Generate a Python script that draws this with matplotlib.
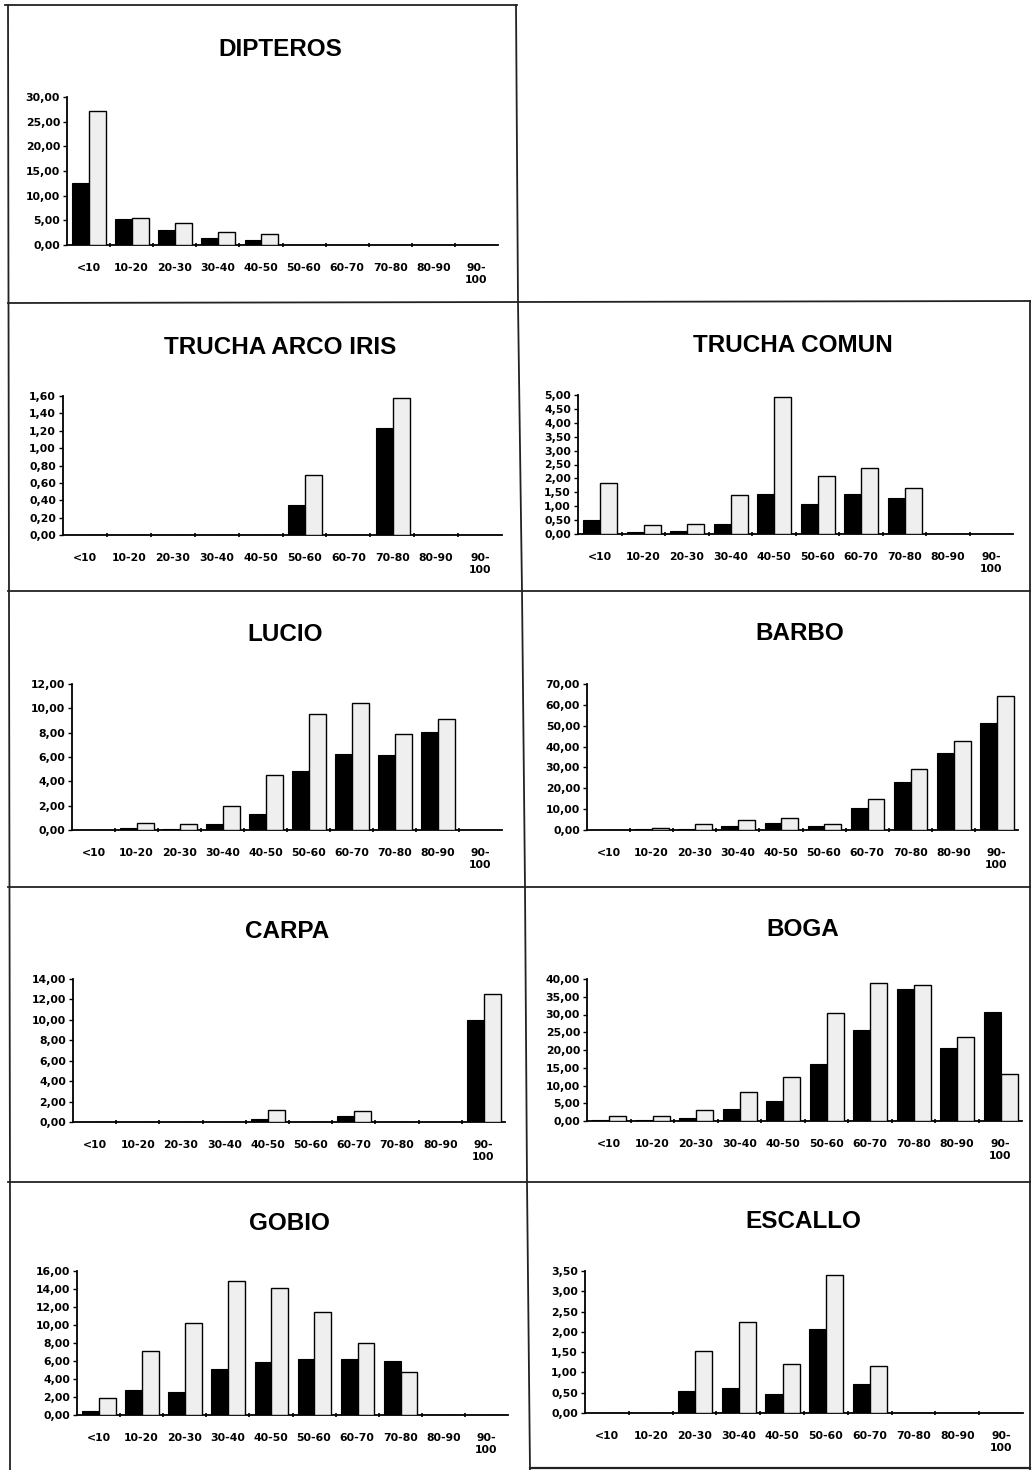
import matplotlib
matplotlib.use("Agg")
import matplotlib.pyplot as plt
from matplotlib.lines import Line2D
import numpy as np

# Length classes (cm) shared by every panel
categories = ["<10", "10-20", "20-30", "30-40", "40-50", "50-60",
              "60-70", "70-80", "80-90", "90-\n100"]

# Two series per species: black bars and light bars
dipteros_a = [12.6, 5.2, 3.0, 1.4, 1.1, 0, 0, 0, 0, 0]
dipteros_b = [27.2, 5.5, 4.45, 2.6, 2.2, 0, 0, 0, 0, 0]

arco_iris_a = [0, 0, 0, 0, 0, 0.35, 0, 1.23, 0, 0]
arco_iris_b = [0, 0, 0, 0, 0, 0.69, 0, 1.58, 0, 0]

comun_a = [0.49, 0.06, 0.10, 0.36, 1.44, 1.08, 1.44, 1.30, 0, 0]
comun_b = [1.82, 0.31, 0.36, 1.39, 4.94, 2.10, 2.36, 1.65, 0, 0]

lucio_a = [0, 0.16, 0.11, 0.52, 1.35, 4.83, 6.26, 6.13, 8.02, 0]
lucio_b = [0, 0.60, 0.50, 2.00, 4.48, 9.53, 10.44, 7.91, 9.15, 0]

barbo_a = [0, 0.3, 0.6, 1.9, 3.4, 1.8, 10.6, 22.9, 36.9, 51.4]
barbo_b = [0, 0.8, 2.9, 4.6, 5.8, 2.9, 14.7, 29.3, 42.5, 64.4]

carpa_a = [0, 0, 0, 0, 0.26, 0, 0.59, 0, 0, 10.0]
carpa_b = [0, 0, 0, 0, 1.18, 0, 1.08, 0, 0, 12.56]

boga_a = [0.3, 0.2, 0.9, 3.4, 5.7, 16.0, 25.5, 37.3, 20.5, 30.8]
boga_b = [1.5, 1.5, 3.2, 8.1, 12.5, 30.4, 38.9, 38.2, 23.6, 13.1]

gobio_a = [0.48, 2.8, 2.6, 5.06, 5.84, 6.17, 6.17, 5.99, 0, 0]
gobio_b = [1.85, 7.1, 10.24, 14.93, 14.12, 11.46, 7.98, 4.77, 0, 0]

escallo_a = [0, 0, 0.54, 0.62, 0.47, 2.07, 0.72, 0, 0, 0]
escallo_b = [0, 0, 1.52, 2.24, 1.22, 3.41, 1.17, 0, 0, 0]

titles = ["DIPTEROS", "TRUCHA ARCO IRIS", "TRUCHA COMUN", "LUCIO", "BARBO",
          "CARPA", "BOGA", "GOBIO", "ESCALLO"]
y_max = [30, 1.6, 5.0, 12, 70, 14, 40, 16, 3.5]
y_step = [5, 0.2, 0.5, 2, 10, 2, 5, 2, 0.5]
series = [(dipteros_a, dipteros_b), (arco_iris_a, arco_iris_b),
          (comun_a, comun_b), (lucio_a, lucio_b), (barbo_a, barbo_b),
          (carpa_a, carpa_b), (boga_a, boga_b), (gobio_a, gobio_b),
          (escallo_a, escallo_b)]

W, H = 1032, 1470
fig = plt.figure(figsize=(W / 100, H / 100), dpi=100)
fig.patch.set_facecolor("white")

# Plot boxes in pixels: (axis x, top y, right end x, zero y), title centre (x, y)
boxes = [
    (67, 97, 498, 245, (280, 50)),
    (63, 396, 502, 535, (280, 347)),
    (578, 395, 1013, 534, (793, 346)),
    (72, 684, 502, 830, (285, 635)),
    (587, 684, 1018, 830, (800, 634)),
    (73, 979, 505, 1122, (287, 931)),
    (587, 979, 1022, 1121, (803, 930)),
    (77, 1271, 508, 1415, (289, 1224)),
    (585, 1271, 1023, 1413, (803, 1222)),
]

tick_font = dict(family="DejaVu Sans", weight="bold", size=7.8)
x = np.arange(len(categories))
bw = 0.39

for (a, b), title, ym, ys, (x0, y0, x1, y1, (tx, ty)) in zip(
        series, titles, y_max, y_step, boxes):
    ax = fig.add_axes([x0 / W, 1 - y1 / H, (x1 - x0) / W, (y1 - y0) / H])
    ax.bar(x - bw / 2 + 0.01, a, width=bw, color="black", edgecolor="black",
           linewidth=0.8, zorder=3)
    ax.bar(x + bw / 2 + 0.01, b, width=bw, color="#efefef", edgecolor="black",
           linewidth=1.0, zorder=3)
    ax.set_xlim(-0.5, len(categories) - 0.5)
    ax.set_ylim(0, ym)
    yt = np.arange(0, ym + ys / 2, ys)
    ax.set_yticks(yt)
    ax.set_yticklabels([f"{v:.2f}".replace(".", ",") for v in yt], **tick_font)
    ax.set_xticks(x)
    ax.set_xticklabels(categories, multialignment="center", **tick_font)
    ax.set_xticks(np.arange(0.5, len(categories) - 0.5, 1), minor=True)
    ax.tick_params(axis="x", which="major", length=0, pad=13)
    ax.tick_params(axis="x", which="minor", length=3, width=1.2,
                   direction="inout")
    ax.tick_params(axis="y", length=3, width=1.0, direction="out", pad=2)
    for s in ("top", "right"):
        ax.spines[s].set_visible(False)
    for s in ("left", "bottom"):
        ax.spines[s].set_linewidth(1.3)
    ax.set_facecolor("none")
    fig.text(tx / W, 1 - ty / H, title, ha="center", va="center",
             family="Liberation Sans", weight="bold", size=17.5)

# Frame lines around the panels
def frame(xs, ys, lw=1.3):
    fig.add_artist(Line2D([v / W for v in xs], [1 - v / H for v in ys],
                          color="#222222", linewidth=lw))

frame([5, 517], [5, 5])
frame([8, 9, 10, 10], [5, 600, 1200, 1470])
frame([516, 518, 522, 525, 527, 530], [5, 303, 591, 887, 1182, 1470])
frame([8, 1030], [303, 301])
frame([8, 1030], [591, 591])
frame([8, 1030], [887, 887])
frame([8, 1030], [1182, 1182])
frame([1030, 1030], [301, 1470])
frame([530, 1030], [1468, 1468], lw=1.6)

fig.savefig("out.png", dpi=100, facecolor="white")
